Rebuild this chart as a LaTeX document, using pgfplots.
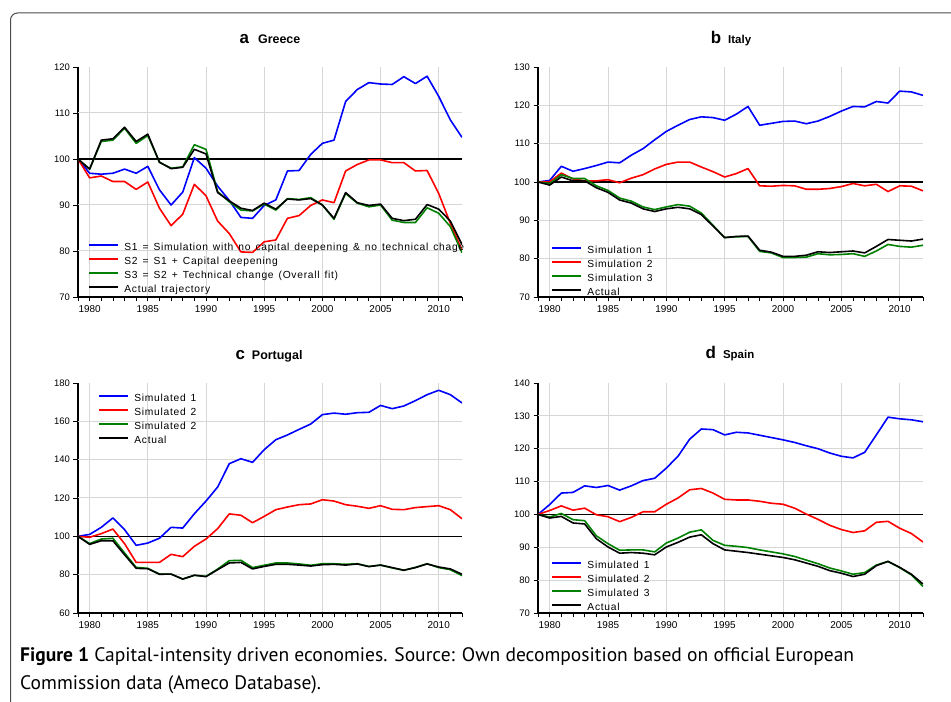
\documentclass[border=0pt]{standalone}
\usepackage{fontspec}
\setmainfont{Liberation Sans}
\newfontfamily\legfont[LetterSpace=7,WordSpace=1.4]{Liberation Sans}
\newfontfamily\capfont{PT Sans}
\usepackage{pgfplots}
\usepackage{pgfplotstable}
\pgfplotsset{compat=1.18}
\definecolor{dgreen}{RGB}{0,128,0}
\definecolor{gridgray}{RGB}{215,215,215}

\pgfplotstableread{
year s1 s2 s3 act
1979 100 100 100 100
1980 96.9 95.9 97.8 97.8
1981 96.7 96.3 103.8 104.1
1982 96.9 95.1 104.1 104.4
1983 97.8 95.1 106.7 106.9
1984 96.9 93.4 103.4 103.8
1985 98.4 95.0 105.1 105.4
1986 93.3 89.3 99.3 99.3
1987 90.0 85.5 98.0 97.9
1988 92.8 88.0 98.3 98.2
1989 100.3 94.5 103.1 102.1
1990 98.0 92.0 102.1 101.1
1991 94.1 86.5 92.9 92.7
1992 91.0 83.8 90.7 90.9
1993 87.3 79.8 88.9 89.3
1994 87.1 79.7 88.7 88.8
1995 89.9 82.0 90.2 90.4
1996 91.1 82.4 88.9 89.1
1997 97.4 87.1 91.4 91.3
1998 97.5 87.7 91.2 91.1
1999 101.0 89.9 91.6 91.4
2000 103.4 91.1 90.0 90.0
2001 104.1 90.5 86.9 87.1
2002 112.5 97.4 92.5 92.7
2003 115.1 98.8 90.4 90.5
2004 116.6 99.8 89.6 89.9
2005 116.3 99.8 90.0 90.2
2006 116.2 99.2 86.7 87.1
2007 117.9 99.2 86.2 86.6
2008 116.4 97.4 86.2 86.9
2009 118.0 97.5 89.4 90.1
2010 113.6 92.5 88.2 89.1
2011 108.5 86.0 85.3 86.5
2012 104.7 80.2 79.6 81.4
}\greece

\pgfplotstableread{
year s1 s2 s3 act
1979 100 100 100 100
1980 100.4 100.1 99.6 99.2
1981 104.1 102.3 101.9 101.3
1982 102.8 100.8 100.9 100.3
1983 103.5 100.3 100.9 100.3
1984 104.3 100.3 99.0 98.5
1985 105.2 100.6 97.8 97.3
1986 105.0 99.8 95.8 95.3
1987 107.0 101.0 95.0 94.5
1988 108.7 101.9 93.5 93.0
1989 111.0 103.4 92.8 92.3
1990 113.2 104.6 93.5 93.0
1991 114.8 105.2 94.1 93.4
1992 116.3 105.2 93.7 93.0
1993 117.0 103.9 91.9 91.5
1994 116.8 102.7 88.7 88.5
1995 116.1 101.3 85.5 85.5
1996 117.7 102.2 85.7 85.8
1997 119.7 103.5 85.8 85.9
1998 114.8 99.0 81.9 82.2
1999 115.3 98.9 81.5 81.7
2000 115.8 99.1 80.3 80.6
2001 115.9 99.0 80.3 80.6
2002 115.2 98.1 80.4 80.9
2003 115.9 98.1 81.3 81.8
2004 117.1 98.3 81.0 81.6
2005 118.5 98.8 81.1 81.8
2006 119.7 99.6 81.3 82.0
2007 119.6 99.0 80.6 81.5
2008 121.0 99.4 82.0 83.2
2009 120.6 97.5 83.7 85.0
2010 123.7 99.0 83.2 84.8
2011 123.5 98.9 83.0 84.6
2012 122.6 97.7 83.5 85.1
}\italy

\pgfplotstableread{
year s1 s2 s3 act
1979 100 100 100 100
1980 101.0 99.5 96.2 95.8
1981 104.7 101.4 98.6 97.7
1982 109.6 103.8 99.0 97.7
1983 103.5 96.2 91.3 90.4
1984 95.3 86.4 83.8 83.3
1985 96.5 86.4 83.3 83.1
1986 99.0 86.4 80.3 80.2
1987 104.7 90.6 80.3 80.3
1988 104.3 89.4 77.7 77.7
1989 111.8 94.8 79.7 79.7
1990 118.4 98.6 79.1 79.0
1991 125.7 104.0 82.9 82.6
1992 137.9 111.7 87.3 86.1
1993 140.5 111.0 87.5 86.4
1994 138.6 107.1 83.7 83.0
1995 145.2 110.4 84.9 84.3
1996 150.4 113.9 86.1 85.4
1997 152.9 115.3 86.1 85.4
1998 155.8 116.5 85.6 85.0
1999 158.6 116.9 84.9 84.5
2000 163.5 119.1 85.7 85.2
2001 164.3 118.4 85.7 85.4
2002 163.7 116.5 85.4 85.0
2003 164.5 115.7 85.7 85.6
2004 164.7 114.6 84.3 84.2
2005 168.3 116.0 85.0 85.0
2006 166.6 114.1 83.5 83.7
2007 168.0 113.9 82.3 82.3
2008 170.8 115.0 83.8 83.7
2009 173.9 115.5 85.7 85.6
2010 176.2 116.0 83.7 84.0
2011 173.9 113.9 82.6 83.0
2012 169.6 109.2 79.5 80.2
}\portugal

\pgfplotstableread{
year s1 s2 s3 act
1979 100 100 100 100
1980 103.0 101.2 99.2 98.9
1981 106.5 102.6 100.3 99.4
1982 106.7 101.3 98.4 97.4
1983 108.7 101.9 98.1 97.1
1984 108.2 99.9 93.5 92.6
1985 108.8 99.3 91.1 90.1
1986 107.4 97.8 89.1 88.2
1987 108.7 99.1 89.2 88.4
1988 110.3 100.8 89.2 88.2
1989 111.0 100.8 88.6 87.7
1990 114.1 103.1 91.3 90.1
1991 117.7 105.0 92.8 91.5
1992 122.9 107.5 94.6 93.1
1993 126.0 107.9 95.3 93.8
1994 125.8 106.5 92.1 91.1
1995 124.2 104.6 90.6 89.2
1996 125.0 104.4 90.3 88.8
1997 124.8 104.4 89.9 88.4
1998 124.1 104.0 89.2 87.9
1999 123.4 103.4 88.6 87.4
2000 122.7 103.1 88.0 86.9
2001 121.9 101.9 87.2 86.2
2002 120.9 100.1 86.1 85.2
2003 120.0 98.5 85.0 84.2
2004 118.7 96.7 83.7 82.9
2005 117.7 95.4 82.8 82.1
2006 117.2 94.5 81.8 81.1
2007 118.9 95.0 82.3 81.8
2008 124.2 97.6 84.6 84.4
2009 129.6 97.9 85.7 85.7
2010 129.1 95.8 83.8 83.9
2011 128.8 94.2 81.6 81.8
2012 128.2 91.6 78.1 78.8
}\spain

\pgfplotsset{
  panel/.style={
    scale only axis, width=384bp, height=230bp,
    xmin=1979, xmax=2012,
    axis x line*=bottom, axis y line*=left,
    axis line style={black, line width=1.3bp},
    xtick={1980,1985,...,2010},
    minor xtick={1979,...,2012},
    /pgf/number format/assume math mode=true,
    /pgf/number format/1000 sep={},
    x tick label style={font=\fontsize{10}{12}\selectfont, yshift=-1bp},
    y tick label style={font=\fontsize{9.5}{11}\selectfont},
    tick align=outside, major tick length=4.5bp, minor tick length=4.5bp,
    every tick/.style={black, line width=0.8bp},
    xmajorgrids,
    major grid style={gridgray, line width=1bp},
    extra tick style={major tick length=0bp, ymajorgrids=true, xmajorgrids=false},
    extra y tick labels={},
    legend style={draw=none, fill=none, font=\legfont\fontsize{10.3}{12}\selectfont,
      row sep=0pt, inner sep=0pt,
      nodes={inner ysep=0pt, inner xsep=0pt, text height=9bp, text depth=5bp}},
    legend cell align=left,
    every axis plot/.append style={line width=1.6bp, line join=round},
  },
  limg/.style={legend image code/.code={\draw[#1, line width=1.7bp] (0bp,3.5bp) -- (28.5bp,3.5bp);}},
}

\begin{document}
\begin{tikzpicture}
\useasboundingbox (0,0) rectangle (951bp,702bp);
\draw[black!70, line width=1bp, rounded corners=7bp] (10.5bp,-5bp) -- (10.5bp,689bp) -- (960bp,689bp);

% a Greece
\begin{axis}[panel, at={(78bp,405bp)}, anchor=south west,
  ymin=70, ymax=120, ytick={70,80,...,120}, extra y ticks={80,90,110},
  legend style={at={(0.026,0.241)}, anchor=north west}]
\addplot[black, line width=1.2bp, forget plot] coordinates {(1979,100) (2012,100)};
\addplot[blue, forget plot] table[x=year,y=s1] {\greece};
\addplot[red, forget plot] table[x=year,y=s2] {\greece};
\addplot[dgreen, forget plot] table[x=year,y=s3] {\greece};
\addplot[black, forget plot] table[x=year,y=act] {\greece};
\addlegendimage{limg=blue}
\addlegendentry{{\hspace{6bp}S1 = Simulation with no capital deepening \symbol{38} no technical chage}}
\addlegendimage{limg=red}
\addlegendentry{{\hspace{6bp}S2 = S1 + Capital deepening}}
\addlegendimage{limg=dgreen}
\addlegendentry{{\hspace{6bp}S3 = S2 + Technical change (Overall fit)}}
\addlegendimage{limg=black}
\addlegendentry{{\hspace{6bp}Actual trajectory}}
\end{axis}

% b Italy
\begin{axis}[panel, at={(538bp,405bp)}, anchor=south west, width=385bp,
  ymin=70, ymax=130, ytick={70,80,...,130}, extra y ticks={80,90,110,120},
  legend style={at={(0.034,0.228)}, anchor=north west}]
\addplot[black, line width=1.2bp, forget plot] coordinates {(1979,100) (2012,100)};
\addplot[blue, forget plot] table[x=year,y=s1] {\italy};
\addplot[red, forget plot] table[x=year,y=s2] {\italy};
\addplot[dgreen, forget plot] table[x=year,y=s3] {\italy};
\addplot[black, forget plot] table[x=year,y=act] {\italy};
\addlegendimage{limg=blue}
\addlegendentry{\hspace{6bp}Simulation 1}
\addlegendimage{limg=red}
\addlegendentry{\hspace{6bp}Simulation 2}
\addlegendimage{limg=dgreen}
\addlegendentry{\hspace{6bp}Simulation 3}
\addlegendimage{limg=black}
\addlegendentry{\hspace{6bp}Actual}
\end{axis}

% c Portugal
\begin{axis}[panel, at={(78bp,89bp)}, anchor=south west,
  ymin=60, ymax=180, ytick={60,80,...,180}, extra y ticks={80,120,140,160},
  legend style={at={(0.052,0.961)}, anchor=north west}]
\addplot[black, line width=1.2bp, forget plot] coordinates {(1979,100) (2012,100)};
\addplot[blue, forget plot] table[x=year,y=s1] {\portugal};
\addplot[red, forget plot] table[x=year,y=s2] {\portugal};
\addplot[dgreen, forget plot] table[x=year,y=s3] {\portugal};
\addplot[black, forget plot] table[x=year,y=act] {\portugal};
\addlegendimage{limg=blue}
\addlegendentry{\hspace{6bp}Simulated 1}
\addlegendimage{limg=red}
\addlegendentry{\hspace{6bp}Simulated 2}
\addlegendimage{limg=dgreen}
\addlegendentry{\hspace{6bp}Simulated 2}
\addlegendimage{limg=black}
\addlegendentry{\hspace{6bp}Actual}
\end{axis}

% d Spain
\begin{axis}[panel, at={(538bp,89bp)}, anchor=south west, width=385bp,
  ymin=70, ymax=140, ytick={70,80,...,140}, extra y ticks={80,90,110,120,130},
  legend style={at={(0.034,0.233)}, anchor=north west}]
\addplot[black, line width=1.2bp, forget plot] coordinates {(1979,100) (2012,100)};
\addplot[blue, forget plot] table[x=year,y=s1] {\spain};
\addplot[red, forget plot] table[x=year,y=s2] {\spain};
\addplot[dgreen, forget plot] table[x=year,y=s3] {\spain};
\addplot[black, forget plot] table[x=year,y=act] {\spain};
\addlegendimage{limg=blue}
\addlegendentry{\hspace{6bp}Simulated 1}
\addlegendimage{limg=red}
\addlegendentry{\hspace{6bp}Simulated 2}
\addlegendimage{limg=dgreen}
\addlegendentry{\hspace{6bp}Simulated 3}
\addlegendimage{limg=black}
\addlegendentry{\hspace{6bp}Actual}
\end{axis}

% titles
\node[anchor=base, inner sep=0pt] at (270bp,658bp) {\bfseries\fontsize{17}{17}\selectfont a\hspace{9bp}\fontsize{12.5}{14}\selectfont Greece};
\node[anchor=base, inner sep=0pt] at (731bp,658bp) {\bfseries\fontsize{17}{17}\selectfont b\hspace{7bp}\fontsize{11.5}{14}\selectfont Italy};
\node[anchor=base, inner sep=0pt] at (269bp,342bp) {\bfseries\fontsize{17}{17}\selectfont c\hspace{7bp}\fontsize{12.5}{14}\selectfont Portugal};
\node[anchor=base, inner sep=0pt] at (730bp,343bp) {\bfseries\fontsize{17}{17}\selectfont d\hspace{7bp}\fontsize{11.5}{14}\selectfont Spain};

% caption
\node[anchor=base west, inner sep=0pt] at (20bp,40bp) {\capfont\fontsize{19.6}{20}\selectfont\textbf{Figure 1} Capital-intensity driven economies. Source: Own decomposition based on official European};
\node[anchor=base west, inner sep=0pt] at (20bp,13bp) {\capfont\fontsize{19.6}{20}\selectfont Commission data (Ameco Database).};
\end{tikzpicture}
\end{document}
